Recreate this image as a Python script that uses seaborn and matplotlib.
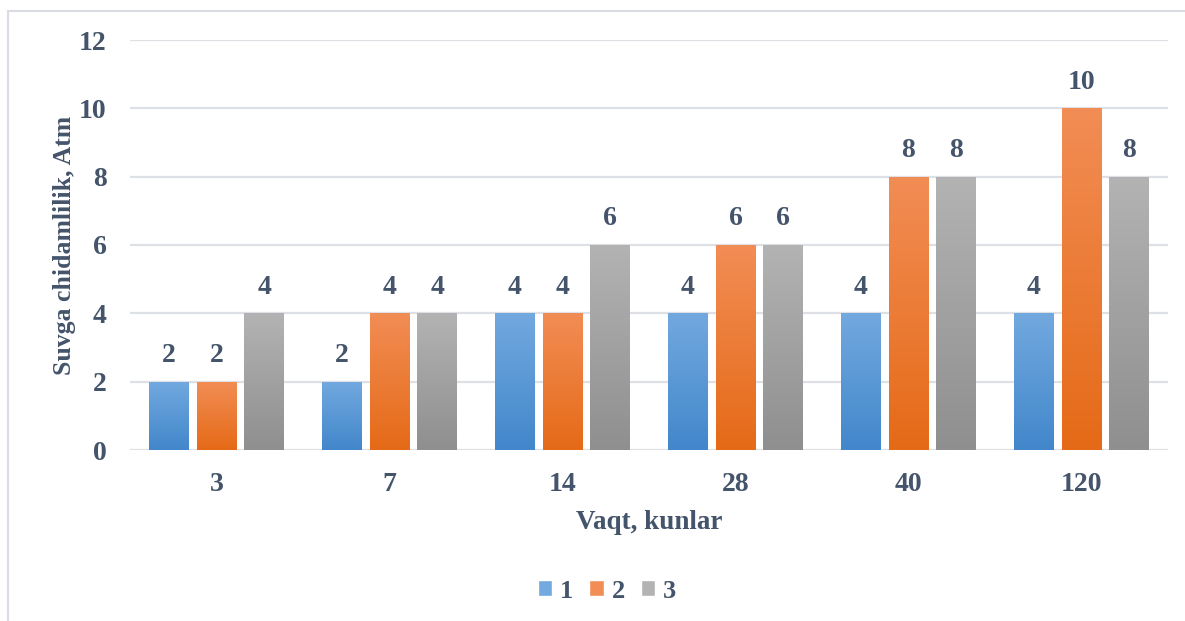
import numpy as np
import pandas as pd
import matplotlib
matplotlib.use("Agg")
import matplotlib.pyplot as plt
from matplotlib.colors import LinearSegmentedColormap
from matplotlib.patches import Rectangle
import seaborn as sns

# Data
days = ["3", "7", "14", "28", "40", "120"]
series_names = ["1", "2", "3"]
s1 = [2, 2, 4, 4, 4, 4]
s2 = [2, 4, 4, 6, 8, 10]
s3 = [4, 4, 6, 6, 8, 8]

df = pd.DataFrame({
    "day": days * 3,
    "series": sum([[n] * len(days) for n in series_names], []),
    "value": s1 + s2 + s3,
})

# gradient colours (top, bottom) per series
grad = {
    "1": ("#72a9df", "#4287cb"),
    "2": ("#f28d55", "#e56a17"),
    "3": ("#b3b3b3", "#8f8f8f"),
}
text_color = "#44546a"

sns.set_theme(style="white")
plt.rcParams["font.family"] = ["Liberation Serif", "DejaVu Serif"]
plt.rcParams["font.weight"] = "bold"

fig = plt.figure(figsize=(11.85, 6.21), dpi=100)
ax = fig.add_axes([130 / 1185, 1 - 450 / 621, (1168 - 130) / 1185, (450 - 40) / 621])

palette = {k: v[1] for k, v in grad.items()}
sns.barplot(data=df, x="day", y="value", hue="series", order=days,
            hue_order=series_names, palette=palette, width=0.83,
            gap=0.167, ax=ax, legend=False, saturation=1)

# replace flat fills with vertical gradients clipped to each bar
for container, name in zip(ax.containers, series_names):
    top, bot = grad[name]
    cmap = LinearSegmentedColormap.from_list("g" + name, [bot, top])
    for bar, val in zip(container.patches, container.datavalues):
        x0, w, h = bar.get_x(), bar.get_width(), bar.get_height()
        bar.set_facecolor("none")
        bar.set_edgecolor("none")
        img = ax.imshow(np.linspace(0, 1, 256).reshape(-1, 1),
                        extent=[x0, x0 + w, 0, h], origin="lower",
                        cmap=cmap, aspect="auto", zorder=2)
        img.set_clip_path(bar)
        ax.text(x0 + w / 2, h + 0.4, f"{val:g}", ha="center", va="bottom",
                fontsize=20, fontweight="bold", color=text_color)

ax.set_xlim(-0.5, len(days) - 0.5)
ax.set_ylim(0, 12)
ax.set_yticks(range(0, 13, 2))
ax.yaxis.grid(True, color="#dde1e6", linewidth=1.6, zorder=0)
ax.set_axisbelow(True)
for sp in ax.spines.values():
    sp.set_visible(False)
ax.tick_params(axis="both", length=0, labelsize=20, labelcolor=text_color)
ax.tick_params(axis="y", pad=17)
ax.tick_params(axis="x", pad=16)
for lbl in ax.get_xticklabels() + ax.get_yticklabels():
    lbl.set_fontweight("bold")

ax.set_xlabel("Vaqt, kunlar", fontsize=19.5, fontweight="bold", color=text_color, labelpad=9)
ax.set_ylabel("Suvga chidamlilik, Atm", fontsize=18.5, fontweight="bold", color=text_color, labelpad=2)

# legend squares
handles = [Rectangle((0, 0), 1, 1, facecolor=grad[n][0]) for n in series_names]
fig.legend(handles, series_names, loc="center", bbox_to_anchor=(607 / 1185, 1 - 591 / 621),
           ncol=3, frameon=False, handlelength=0.55, handleheight=0.55,
           handletextpad=0.3, columnspacing=0.6, labelcolor=text_color,
           prop={"weight": "bold", "size": 19})

# chart border
fig.patches.append(Rectangle((8 / 1185, -0.01), 1.1, 1 - 10.5 / 621 + 0.01,
                             transform=fig.transFigure, fill=False,
                             edgecolor="#d9dde3", linewidth=1.5))

fig.savefig("out.png", dpi=100)
